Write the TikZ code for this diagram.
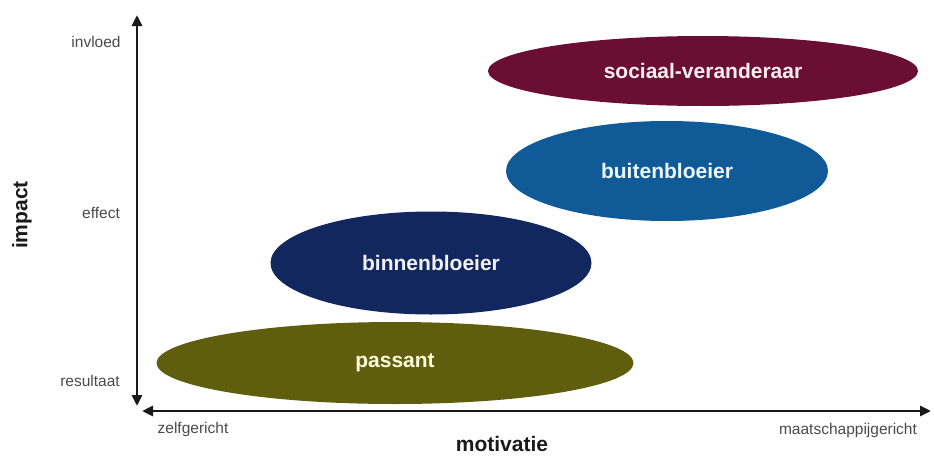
\documentclass[tikz,border=0pt]{standalone}
\usepackage{fontspec}
\setmainfont{Liberation Sans}
\usetikzlibrary{shapes.geometric,arrows.meta}
\definecolor{socc}{HTML}{6A0E33}
\definecolor{buic}{HTML}{0F5A97}
\definecolor{binc}{HTML}{13275F}
\definecolor{pasc}{HTML}{5E5E0E}
\definecolor{axc}{HTML}{1A1A1A}
\definecolor{lblc}{HTML}{4A4A4A}
\begin{document}
\begin{tikzpicture}[x=1pt,y=-1pt,
  blob/.style={ellipse,inner sep=0pt,minimum width=#1},
  blobtxt/.style={font=\bfseries\fontsize{21}{24}\selectfont},
  axlbl/.style={font=\fontsize{15.5}{17}\selectfont,text=lblc,inner sep=0pt},
  axtitle/.style={font=\bfseries\fontsize{21}{24}\selectfont,text=axc,inner sep=0pt},
  axis/.style={draw=axc,line width=2.8pt,{Triangle[length=11pt,width=10pt]}-{Triangle[length=11pt,width=10pt]}}]
\useasboundingbox (0,0) rectangle (934,455);
% ellipses
\node[blob=430pt,minimum height=70pt,fill=socc,text=pink!25,blobtxt] (soc) at (703,71) {sociaal-veranderaar};
\node[blob=322pt,minimum height=100pt,fill=buic,text=cyan!8,blobtxt] (bui) at (667,171) {buitenbloeier};
\node[blob=321pt,minimum height=103pt,fill=binc,text=blue!5,blobtxt] (bin) at (431,263) {binnenbloeier};
\node[blob=477pt,minimum height=82pt,fill=pasc,text=yellow!15,blobtxt] (pas) at (395,363) {passant};
% axes
\coordinate (vt) at (137,15);
\coordinate (vb) at (137,406);
\coordinate (hl) at (142,411);
\coordinate (hr) at (931,411);
\draw[axis] (vb) -- (vt);
\draw[axis] (hl) -- (hr);
% labels
\node[axlbl] (inv) at (96,42) {invloed};
\node[axlbl] (eff) at (101,213) {effect};
\node[axlbl] (res) at (90,381) {resultaat};
\node[axlbl] (zel) at (193,429) {zelfgericht};
\node[axlbl] (maa) at (848,430) {maatschappijgericht};
\node[axtitle] (mot) at (502,444) {motivatie};
\node[axtitle,rotate=90] (imp) at (22,215) {impact};
\end{tikzpicture}
\end{document}
